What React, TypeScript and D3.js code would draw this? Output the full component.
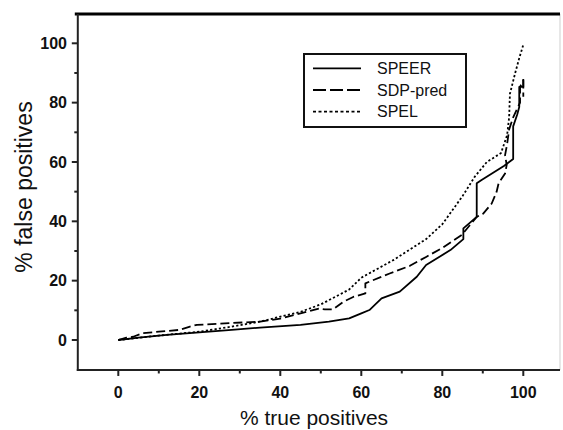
import React from "react";
import * as d3 from "d3";

const seriesNames = ["SPEER", "SDP-pred", "SPEL"];

const speer: [number, number][] = [
  [0, 0], [5, 0.8], [12, 1.7], [20, 2.6], [28, 3.4], [35, 4.2], [45, 5.1], [52, 6.2],
  [57, 7.3], [60, 9], [62, 10.1], [65, 14], [69.5, 16.3], [73.7, 21.3], [76, 25.3],
  [82, 30.3], [85.2, 34], [85.2, 37.6], [88.5, 41.5], [88.5, 52.8], [89.7, 53.9],
  [95.3, 58.7], [97.5, 61], [97.5, 72], [98.5, 76], [99, 78.5], [99, 85.3], [100, 85.3],
  [100, 88],
];

const sdpPred: [number, number][] = [
  [0, 0], [2, 0.8], [3.7, 1.1], [6, 2.3], [10, 2.8], [15, 3.4], [17.7, 4.5], [19.4, 5.1],
  [25, 5.5], [35, 6.2], [40, 7.2], [45, 9], [49.5, 10.6], [51, 10.3], [53, 10.3],
  [55.6, 12.9], [58, 14.5], [61, 15.7], [61, 19.1], [67, 22.4], [72, 25], [76, 28],
  [80, 31], [84.8, 35.4], [88.5, 41.5], [90.1, 42.6], [92.2, 46], [93.4, 49.9],
  [93.9, 52.8], [95.5, 56.1], [95.9, 59], [95.5, 62.3], [96, 66], [96.5, 71], [97.5, 75],
  [98.3, 77.4], [99.2, 80], [99.2, 85.3], [100, 87.5], [100, 82],
];

const spel: [number, number][] = [
  [0, 0], [4, 0.6], [10, 1.5], [20, 2.8], [28, 4.5], [35, 6.2], [45, 9.5], [50, 12],
  [57, 17], [60, 21], [68, 27], [76, 34], [80, 39], [85, 48.5], [88, 55], [91, 60],
  [94.5, 63], [96, 69], [96.5, 75], [96.7, 83], [98, 90], [99, 95], [100, 99.5],
];

const xMajorTicks = [0, 20, 40, 60, 80, 100];
const xMinorTicks = [10, 30, 50, 70, 90];
const yMajorTicks = [0, 20, 40, 60, 80, 100];
const yMinorTicks = [10, 30, 50, 70, 90];

const xTitle = "% true positives";
const yTitle = "% false positives";

const FONT = "'Liberation Sans', Arial, Helvetica, sans-serif";

export default function App() {
  const W = 563;
  const H = 430;
  const x = d3.scaleLinear().domain([0, 100]).range([118.3, 523.3]);
  const y = d3.scaleLinear().domain([0, 100]).range([340, 43.3]);

  const left = x(-10);
  const right = 560;
  const top = y(109.9);
  const bottom = y(-10.1);

  const line = d3
    .line<[number, number]>()
    .x((d) => x(d[0]))
    .y((d) => y(d[1]));

  const styles = [
    { data: speer, dash: "none" },
    { data: sdpPred, dash: "9,4" },
    { data: spel, dash: "2.2,2.2" },
  ];
  const legendDash = ["none", "13,4", "3,2.5"];

  return (
    <svg
      width={W}
      height={H}
      style={{ position: "absolute", left: 0, top: 0, background: "#fff" }}
      fontFamily={FONT}
    >
      <rect x={0} y={0} width={W} height={H} fill="#fff" />
      {/* frame */}
      <line x1={right} x2={right} y1={top} y2={bottom} stroke="#cfcfcf" strokeWidth={1} />
      <line x1={left - 3} x2={right} y1={top} y2={top} stroke="#000" strokeWidth={3} />
      <line x1={left} x2={left} y1={top} y2={bottom + 1} stroke="#222" strokeWidth={2} />
      <line x1={left - 1} x2={right} y1={bottom} y2={bottom} stroke="#222" strokeWidth={2} />

      {/* x ticks */}
      {xMajorTicks.map((t) => (
        <g key={"xm" + t}>
          <line x1={x(t)} x2={x(t)} y1={bottom} y2={bottom + 6} stroke="#222" strokeWidth={2} />
          <text
            x={x(t)}
            y={398}
            textAnchor="middle"
            fontSize={16}
            fontWeight="bold"
            fill="#111"
          >
            {t}
          </text>
        </g>
      ))}
      {xMinorTicks.map((t) => (
        <line key={"xn" + t} x1={x(t)} x2={x(t)} y1={bottom} y2={bottom + 3.5} stroke="#222" strokeWidth={2} />
      ))}

      {/* y ticks */}
      {yMajorTicks.map((t) => (
        <g key={"ym" + t}>
          <line x1={left} x2={left - 6} y1={y(t)} y2={y(t)} stroke="#222" strokeWidth={2} />
          <text
            x={67}
            y={y(t) + 5.7}
            textAnchor="end"
            fontSize={16}
            fontWeight="bold"
            fill="#111"
          >
            {t}
          </text>
        </g>
      ))}
      {yMinorTicks.map((t) => (
        <line key={"yn" + t} x1={left} x2={left - 3.5} y1={y(t)} y2={y(t)} stroke="#222" strokeWidth={2} />
      ))}

      {/* axis titles */}
      <text x={314} y={425} textAnchor="middle" fontSize={21} fill="#111">
        {xTitle}
      </text>
      <text
        transform={`translate(32,187) rotate(-90)`}
        textAnchor="middle"
        fontSize={23}
        fill="#111"
      >
        {yTitle}
      </text>

      {/* data */}
      {styles.map((s, i) => (
        <path
          key={"s" + i}
          d={line(s.data) || ""}
          fill="none"
          stroke="#000"
          strokeWidth={1.8}
          strokeDasharray={s.dash}
          strokeLinejoin="round"
        />
      ))}

      {/* legend */}
      <rect x={304} y={54} width={162} height={73} fill="#fff" stroke="#111" strokeWidth={2} />
      {seriesNames.map((n, i) => {
        const ly = 68.3 + i * 21.7;
        return (
          <g key={"l" + n}>
            <line x1={313} x2={361} y1={ly} y2={ly} stroke="#000" strokeWidth={1.8} strokeDasharray={legendDash[i]} />
            <text x={377} y={ly + 5.5} fontSize={16} fill="#111">
              {n}
            </text>
          </g>
        );
      })}
    </svg>
  );
}
